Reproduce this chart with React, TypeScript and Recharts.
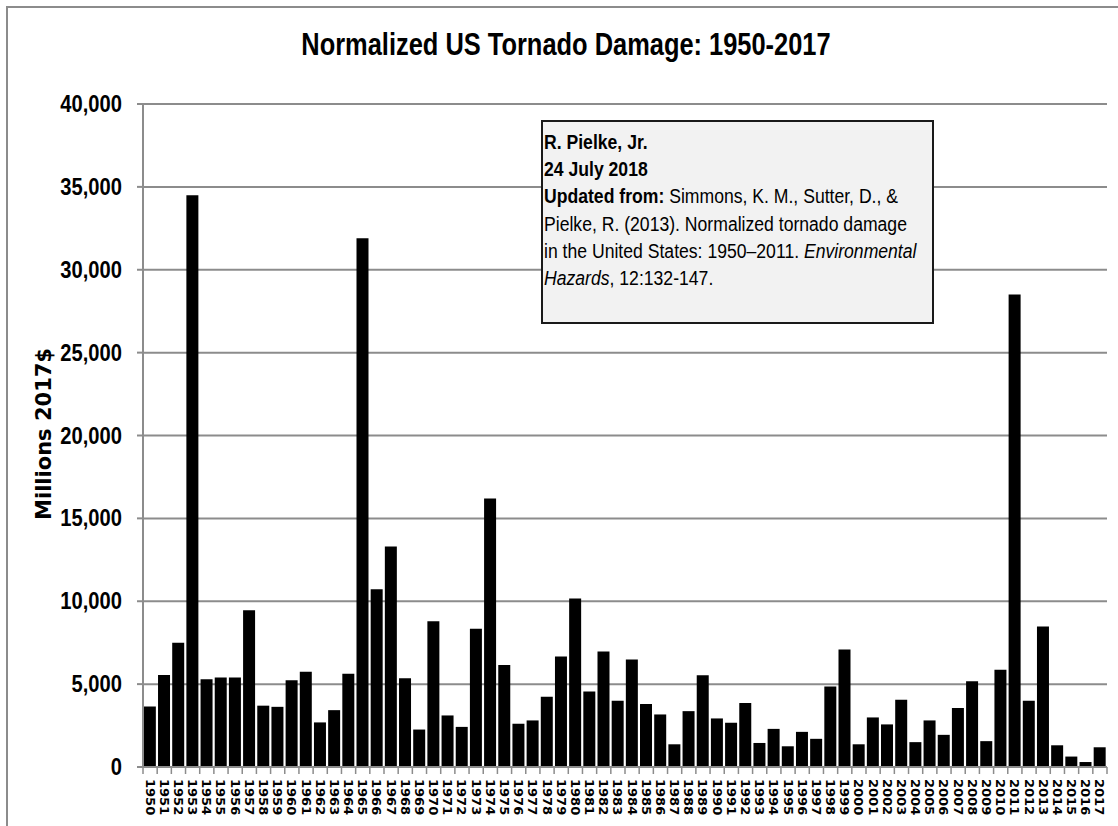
import React from 'react';
import { BarChart, Bar, XAxis, YAxis, CartesianGrid } from 'recharts';

const years = [
  '1950', '1951', '1952', '1953', '1954', '1955', '1956', '1957', '1958', '1959',
  '1960', '1961', '1962', '1963', '1964', '1965', '1966', '1967', '1968', '1969',
  '1970', '1971', '1972', '1973', '1974', '1975', '1976', '1977', '1978', '1979',
  '1980', '1981', '1982', '1983', '1984', '1985', '1986', '1987', '1988', '1989',
  '1990', '1991', '1992', '1993', '1994', '1995', '1996', '1997', '1998', '1999',
  '2000', '2001', '2002', '2003', '2004', '2005', '2006', '2007', '2008', '2009',
  '2010', '2011', '2012', '2013', '2014', '2015', '2016', '2017',
];

// normalized damage, millions of 2017 dollars
const damage = [
  3650, 5550, 7500, 34500, 5300, 5400, 5400, 9450, 3700, 3630,
  5230, 5740, 2690, 3430, 5620, 31900, 10720, 13310, 5350, 2260,
  8790, 3110, 2420, 8340, 16200, 6160, 2610, 2810, 4240, 6670,
  10160, 4550, 6970, 4000, 6480, 3800, 3170, 1370, 3370, 5540,
  2930, 2670, 3860, 1450, 2300, 1250, 2120, 1700, 4850, 7090,
  1370, 2990, 2570, 4060, 1500, 2810, 1940, 3560, 5170, 1560,
  5860, 28500, 4000, 8480, 1310, 630, 300, 1190,
];

const yTicks = [0, 5000, 10000, 15000, 20000, 25000, 30000, 35000, 40000];

const data = years.map((year, i) => ({ year, damage: damage[i] }));

// no narrow font installed, so squeeze Liberation Sans horizontally
const SANS = "'Liberation Sans', Arial, sans-serif";
const GRID = '#8c8c8c';

const YearTick = (props: any) => {
  const { x, y, payload, index, width, visibleTicksCount } = props;
  const step = width / visibleTicksCount;
  const left = x - step / 2;
  const ty = y + 12;
  return (
    <g>
      <line x1={left} y1={y} x2={left} y2={y + 7} stroke={GRID} strokeWidth={1.5} />
      {index === visibleTicksCount - 1 && (
        <line x1={x + step / 2} y1={y} x2={x + step / 2} y2={y + 7} stroke={GRID} strokeWidth={1.5} />
      )}
      <text
        x={x}
        y={ty}
        transform={`rotate(90 ${x} ${ty})`}
        textAnchor="start"
        dominantBaseline="central"
        fontFamily="'DejaVu Sans', sans-serif"
        fontWeight="bold"
        fontSize={13}
        fill="#000"
      >
        {payload.value}
      </text>
    </g>
  );
};

const ValueTick = (props: any) => {
  const { x, y, payload } = props;
  return (
    <text
      transform={`translate(${x} ${y}) scale(0.84 1)`}
      textAnchor="end"
      dominantBaseline="central"
      fontFamily={SANS}
      fontWeight="bold"
      fontSize={24}
      fill="#000"
    >
      {payload.value.toLocaleString('en-US')}
    </text>
  );
};

const AxisTitle = () => (
  <text
    x={44}
    y={434}
    transform="rotate(-90 44 434)"
    textAnchor="middle"
    dominantBaseline="central"
    fontFamily="'DejaVu Sans', sans-serif"
    fontWeight="bold"
    fontSize={21}
    fill="#000"
  >
    Millions 2017$
  </text>
);

export default function App() {
  return (
    <div style={{ position: 'absolute', left: 0, top: 0, width: 1118, height: 826, overflow: 'hidden', background: '#fff' }}>
      <div style={{ position: 'absolute', left: 6, top: 6, width: 1300, height: 1000, border: `2px solid ${GRID}` }} />
      <div
        style={{
          position: 'absolute', left: 0, top: 29, width: 1132, textAlign: 'center',
          fontFamily: SANS, fontWeight: 'bold', fontSize: 31, lineHeight: '31px', color: '#000',
          transform: 'scaleX(0.82)', transformOrigin: '566px 0',
        }}
      >
        Normalized US Tornado Damage: 1950-2017
      </div>

      <div style={{ position: 'absolute', left: 0, top: 0 }}>
        <BarChart width={1118} height={826} data={data} barCategoryGap="6%" margin={{ top: 104, right: 11, bottom: 0, left: 0 }}>
          <CartesianGrid horizontal vertical={false} stroke={GRID} strokeWidth={2} />
          <XAxis
            dataKey="year"
            interval={0}
            tickSize={0}
            tickMargin={0}
            tickLine={false}
            axisLine={{ stroke: GRID, strokeWidth: 2 }}
            tick={<YearTick />}
            height={59}
          />
          <YAxis
            width={143}
            domain={[0, 40000]}
            ticks={yTicks}
            interval={0}
            tickSize={6}
            tickMargin={15}
            tickLine={{ stroke: GRID, strokeWidth: 2 }}
            axisLine={{ stroke: GRID, strokeWidth: 2 }}
            tick={<ValueTick />}
            label={<AxisTitle />}
          />
          <Bar dataKey="damage" fill="#000" isAnimationActive={false} />
        </BarChart>
      </div>

      <div
        style={{
          position: 'absolute', left: 541, top: 120, width: 393, height: 204, boxSizing: 'border-box',
          border: '2px solid #1a1a1a', background: '#f2f2f2',
        }}
      >
        <div
          style={{
            position: 'absolute', left: 1, top: 7,
            fontFamily: SANS, fontSize: 20, lineHeight: '27.2px', color: '#000', whiteSpace: 'nowrap',
            transform: 'scaleX(0.88)', transformOrigin: '0 0',
          }}
        >
          <div><b>R. Pielke, Jr.</b></div>
          <div><b>24 July 2018</b></div>
          <div><b>Updated from:</b> Simmons, K. M., Sutter, D., &amp;</div>
          <div>Pielke, R. (2013). Normalized tornado damage</div>
          <div>in the United States: 1950–2011. <i>Environmental</i></div>
          <div><i>Hazards</i>, 12:132-147.</div>
        </div>
      </div>
    </div>
  );
}
